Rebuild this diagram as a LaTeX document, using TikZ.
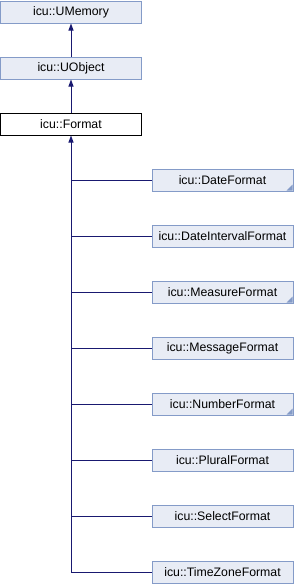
\documentclass[tikz,border=0pt]{standalone}
\usepackage{fontspec}
\setmainfont{Liberation Sans}
\definecolor{BoxFill}{RGB}{232, 236, 245}
\definecolor{BoxLine}{RGB}{132, 155, 200}
\definecolor{EdgeBlue}{RGB}{25, 25, 112}
\usetikzlibrary{arrows.meta, positioning}

\begin{document}
\begin{tikzpicture}[
    x=1pt, y=1pt,
    node distance=33pt,
    every node/.style={font=\fontsize{12.3}{14}\selectfont, inner sep=0pt},
    cls/.style={draw=BoxLine, fill=BoxFill, line width=1pt,
                minimum width=141pt, minimum height=22pt},
    focus/.style={cls, draw=black, fill=white},
    more/.style={path picture={
        \fill[BoxLine] (path picture bounding box.south east) ++(-0.5,0.5)
            -- ++(-6,0) -- ++(6,6) -- cycle;}},
    edge/.style={EdgeBlue, line width=1pt},
    inherit/.style={edge, -{Triangle[width=5pt, length=7pt]}}
]
\useasboundingbox (0,0) rectangle (294,-584);
\node[cls] (umem) at (71,-12) {icu::UMemory};
\node[cls, below=of umem] (uobj) {icu::UObject};
\node[focus, below=of uobj] (fmt) {icu::Format};
\node[cls, more] (date) at (222.5,-180) {icu::DateFormat};
\node[cls, below=of date] (dint) {icu::DateIntervalFormat};
\node[cls, more, below=of dint] (meas) {icu::MeasureFormat};
\node[cls, below=of meas] (msg) {icu::MessageFormat};
\node[cls, more, below=of msg] (num) {icu::NumberFormat};
\node[cls, below=of num] (plur) {icu::PluralFormat};
\node[cls, below=of plur] (sel) {icu::SelectFormat};
\node[cls, below=of sel] (tz) {icu::TimeZoneFormat};
\draw[inherit] (uobj) -- (umem);
\draw[inherit] (fmt) -- (uobj);
% trunk from the last subclass up to Format
\draw[inherit] (tz.west -| fmt.south) -- (fmt.south);
\foreach \c in {date, dint, meas, msg, num, plur, sel, tz}
    \draw[edge] (\c.west) -- (\c.west -| fmt.south);
\end{tikzpicture}
\end{document}
